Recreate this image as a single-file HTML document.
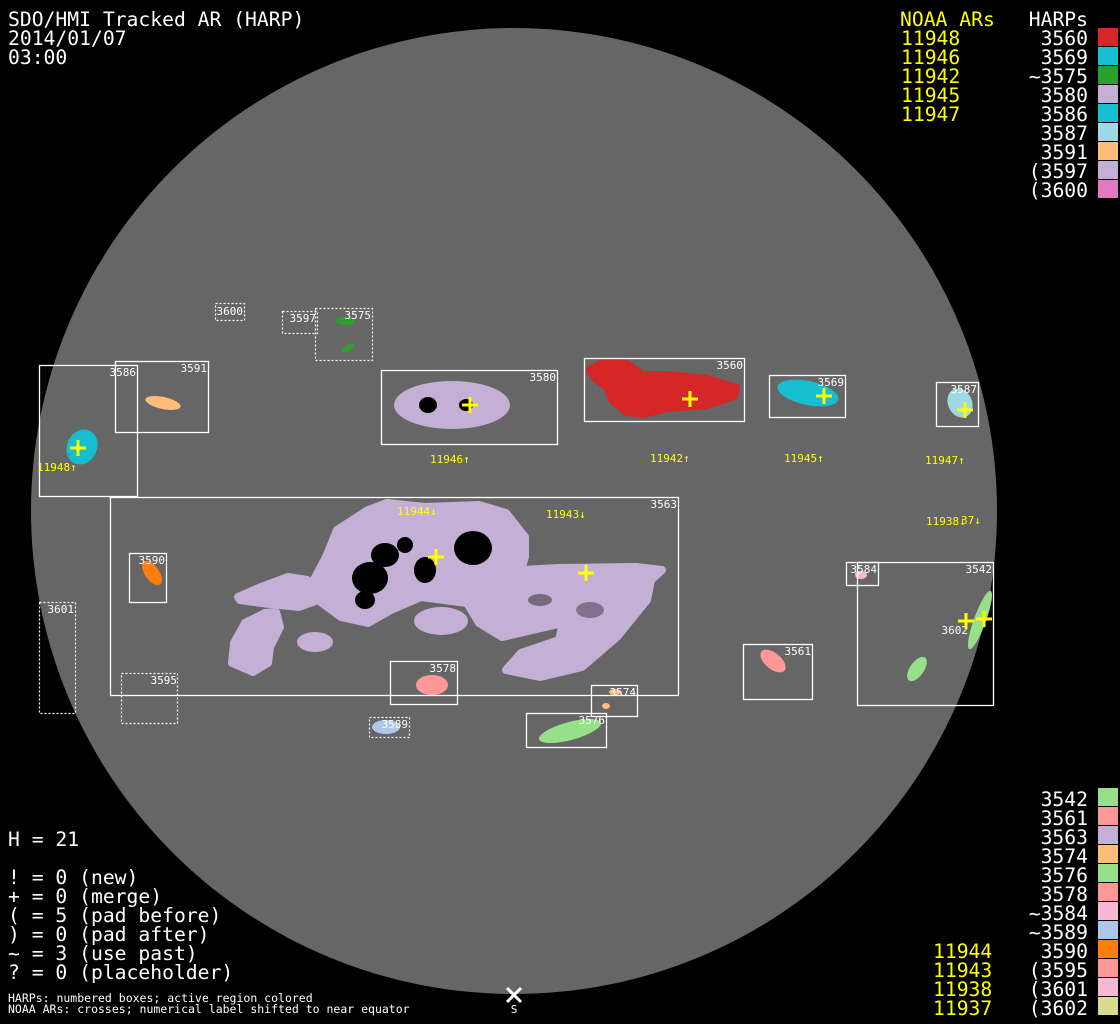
<!DOCTYPE html>
<html><head><meta charset="utf-8"><style>
html,body{margin:0;padding:0;background:#000;}
svg{display:block;}
text{font-family:"DejaVu Sans Mono","Liberation Mono",monospace;}
</style></head><body>
<svg width="1120" height="1024" viewBox="0 0 1120 1024" xmlns="http://www.w3.org/2000/svg">
<rect width="1120" height="1024" fill="#000"/>
<circle cx="514" cy="511" r="483" fill="#666"/>

<!-- lavender big region 3563 -->
<g fill="#c5b0d5" stroke="#c5b0d5" stroke-width="8" stroke-linejoin="round">
<path d="M238,597 L261,587 L288,577 L307,580 L310,587 L326,557 L337,530 L368,510 L387,503 L425,507 L479,505 L506,513 L525,537 L525,557 L521,570 L559,568 L636,567 L662,570 L651,580 L647,600 L617,637 L582,667 L540,677 L506,670 L521,653 L559,640 L563,623 L502,637 L479,623 L467,603 L421,597 L391,610 L368,623 L341,617 L318,600 L299,607 L261,603 L240,600 Z"/>
<path d="M276,612 L280,627 L270,647 L268,663 L253,672 L232,663 L234,643 L245,623 L265,613 Z"/>
</g>
<ellipse cx="315" cy="642" rx="18" ry="10" fill="#c5b0d5"/>
<ellipse cx="441" cy="621" rx="27" ry="14" fill="#c5b0d5"/>
<!-- spots -->
<ellipse cx="473" cy="548" rx="19" ry="17" fill="#000"/>
<ellipse cx="425" cy="570" rx="11" ry="13" fill="#000"/>
<ellipse cx="370" cy="578" rx="18" ry="16" fill="#000"/>
<ellipse cx="385" cy="555" rx="14" ry="12" fill="#000"/>
<ellipse cx="365" cy="600" rx="10" ry="9" fill="#000"/>
<ellipse cx="405" cy="545" rx="8" ry="8" fill="#000"/>
<ellipse cx="540" cy="600" rx="12" ry="6" fill="#000" opacity="0.4"/>
<ellipse cx="590" cy="610" rx="14" ry="8" fill="#000" opacity="0.35"/>

<!-- 3580 -->
<ellipse cx="452" cy="405" rx="58" ry="24" fill="#c5b0d5"/>
<ellipse cx="428" cy="405" rx="9" ry="8" fill="#000"/>
<ellipse cx="466" cy="405" rx="7" ry="6" fill="#000"/>
<!-- 3560 red -->
<path fill="#d62728" stroke="#d62728" stroke-width="8" stroke-linejoin="round" d="M590,370 L602,363 L627,364 L642,375 L667,375 L707,379 L736,388 L734,396 L707,405 L667,408 L643,414 L627,412 L613,401 L607,387 L595,378 Z"/>
<!-- 3569 -->
<ellipse cx="808" cy="393" rx="31" ry="12" transform="rotate(12 808 393)" fill="#17becf"/>
<!-- 3587 -->
<ellipse cx="960" cy="403" rx="12" ry="15" transform="rotate(-25 960 403)" fill="#9edae5"/>
<!-- 3586 -->
<ellipse cx="82" cy="447" rx="15" ry="18" transform="rotate(25 82 447)" fill="#17becf"/>
<!-- 3591 -->
<ellipse cx="163" cy="403" rx="18" ry="6" transform="rotate(12 163 403)" fill="#ffbb78"/>
<!-- 3575 -->
<ellipse cx="345" cy="321" rx="10" ry="4" fill="#2ca02c"/>
<ellipse cx="348" cy="348" rx="7" ry="3" transform="rotate(-30 348 348)" fill="#2ca02c"/>
<!-- 3590 -->
<ellipse cx="152" cy="573" rx="7" ry="14" transform="rotate(-35 152 573)" fill="#ff7f0e"/>
<!-- 3578 -->
<ellipse cx="432" cy="685" rx="16" ry="10" fill="#ff9896"/>
<!-- 3589 -->
<ellipse cx="386" cy="727" rx="14" ry="7" fill="#aec7e8"/>
<!-- 3574 -->
<ellipse cx="615" cy="692" rx="6" ry="3" fill="#ffbb78"/>
<ellipse cx="606" cy="706" rx="4" ry="3" fill="#ffbb78"/>
<!-- 3576 -->
<ellipse cx="570" cy="731" rx="32" ry="9" transform="rotate(-15 570 731)" fill="#98df8a"/>
<!-- 3561 -->
<ellipse cx="773" cy="661" rx="8" ry="15" transform="rotate(-50 773 661)" fill="#ff9896"/>
<!-- 3584 -->
<ellipse cx="861" cy="575" rx="6" ry="4" fill="#f7b6d2"/>
<!-- 3542 -->
<ellipse cx="980" cy="620" rx="6" ry="31" transform="rotate(20 980 620)" fill="#98df8a"/>
<ellipse cx="917" cy="669" rx="7" ry="14" transform="rotate(35 917 669)" fill="#98df8a"/>

<!-- boxes -->
<g fill="none" stroke="#fff" stroke-width="1.3">
<rect x="39.5" y="365.5" width="98" height="131"/>
<rect x="115.5" y="361.5" width="93" height="71"/>
<rect x="381.5" y="370.5" width="176" height="74"/>
<rect x="584.5" y="358.5" width="160" height="63"/>
<rect x="769.5" y="375.5" width="76" height="42"/>
<rect x="936.5" y="382.5" width="42" height="44"/>
<rect x="110.5" y="497.5" width="568" height="198"/>
<rect x="129.5" y="553.5" width="37" height="49"/>
<rect x="390.5" y="661.5" width="67" height="43"/>
<rect x="591.5" y="685.5" width="46" height="31"/>
<rect x="526.5" y="713.5" width="80" height="34"/>
<rect x="743.5" y="644.5" width="69" height="55"/>
<rect x="846.5" y="562.5" width="32" height="23"/>
<rect x="857.5" y="562.5" width="136" height="143"/>
</g>
<g fill="none" stroke="#fff" stroke-width="1.2" stroke-dasharray="2,2">
<rect x="215.5" y="303.5" width="29" height="17"/>
<rect x="282.5" y="311.5" width="35" height="22"/>
<rect x="315.5" y="308.5" width="57" height="52"/>
<rect x="39.5" y="602.5" width="36" height="111"/>
<rect x="121.5" y="673.5" width="56" height="50"/>
<rect x="369.5" y="717.5" width="40" height="20"/>
</g>

<!-- box labels -->
<g fill="#fff" font-size="11" text-anchor="end">
<text x="243" y="315">3600</text>
<text x="316" y="322">3597</text>
<text x="371" y="319">3575</text>
<text x="136" y="376">3586</text>
<text x="207" y="372">3591</text>
<text x="556" y="381">3580</text>
<text x="743" y="369">3560</text>
<text x="844" y="386">3569</text>
<text x="977" y="393">3587</text>
<text x="677" y="508">3563</text>
<text x="165" y="564">3590</text>
<text x="74" y="613">3601</text>
<text x="177" y="684">3595</text>
<text x="456" y="672">3578</text>
<text x="408" y="728">3589</text>
<text x="636" y="696">3574</text>
<text x="605" y="724">3576</text>
<text x="811" y="655">3561</text>
<text x="877" y="573">3584</text>
<text x="992" y="573">3542</text>
<text x="968" y="634">3602</text>
</g>

<!-- crosses -->
<g stroke="#ff0" stroke-width="3">
<path d="M70,448h16M78,440v16"/>
<path d="M462,405h16M470,397v16"/>
<path d="M682,399h16M690,391v16"/>
<path d="M816,396h16M824,388v16"/>
<path d="M957,410h16M965,402v16"/>
<path d="M428,557h16M436,549v16"/>
<path d="M578,573h16M586,565v16"/>
<path d="M958,621h16M966,613v16"/>
<path d="M976,619h16M984,611v16"/>
</g>
<g fill="#ff0" font-size="11">
<text x="37" y="471">11948↑</text>
<text x="430" y="463">11946↑</text>
<text x="650" y="462">11942↑</text>
<text x="784" y="462">11945↑</text>
<text x="925" y="464">11947↑</text>
<text x="397" y="515">11944↓</text>
<text x="546" y="518">11943↓</text>
<text x="926" y="525">11938↓</text>
<text x="961" y="524">37↓</text>
</g>

<!-- S marker -->
<path d="M507,988l14,14M521,988l-14,14" stroke="#fff" stroke-width="3"/>
<text x="514" y="1013" fill="#fff" font-size="11" text-anchor="middle">S</text>

<!-- top-left -->
<g fill="#fff" font-size="19.7">
<text x="8" y="26">SDO/HMI Tracked AR (HARP)</text>
<text x="8" y="45">2014/01/07</text>
<text x="8" y="64">03:00</text>
</g>

<!-- top-right legend -->
<g font-size="19.7">
<text x="900" y="26" fill="#ff0">NOAA ARs</text>
<text x="901" y="45" fill="#ff0">11948</text>
<text x="901" y="64" fill="#ff0">11946</text>
<text x="901" y="83" fill="#ff0">11942</text>
<text x="901" y="102" fill="#ff0">11945</text>
<text x="901" y="121" fill="#ff0">11947</text>
<g fill="#fff" text-anchor="end">
<text x="1088" y="26">HARPs</text>
<text x="1088" y="45">3560</text>
<text x="1088" y="64">3569</text>
<text x="1088" y="83">~3575</text>
<text x="1088" y="102">3580</text>
<text x="1088" y="121">3586</text>
<text x="1088" y="140">3587</text>
<text x="1088" y="159">3591</text>
<text x="1088" y="178">(3597</text>
<text x="1088" y="197">(3600</text>
</g>
</g>
<rect x="1098" y="28" width="20" height="18" fill="#d62728"/>
<rect x="1098" y="47" width="20" height="18" fill="#17becf"/>
<rect x="1098" y="66" width="20" height="18" fill="#2ca02c"/>
<rect x="1098" y="85" width="20" height="18" fill="#c5b0d5"/>
<rect x="1098" y="104" width="20" height="18" fill="#17becf"/>
<rect x="1098" y="123" width="20" height="18" fill="#9edae5"/>
<rect x="1098" y="142" width="20" height="18" fill="#ffbb78"/>
<rect x="1098" y="161" width="20" height="18" fill="#c5b0d5"/>
<rect x="1098" y="180" width="20" height="18" fill="#e377c2"/>

<!-- bottom-right legend -->
<g font-size="19.7">
<g fill="#fff" text-anchor="end">
<text x="1088" y="806">3542</text>
<text x="1088" y="825">3561</text>
<text x="1088" y="844">3563</text>
<text x="1088" y="863">3574</text>
<text x="1088" y="882">3576</text>
<text x="1088" y="901">3578</text>
<text x="1088" y="920">~3584</text>
<text x="1088" y="939">~3589</text>
<text x="1088" y="958">3590</text>
<text x="1088" y="977">(3595</text>
<text x="1088" y="996">(3601</text>
<text x="1088" y="1015">(3602</text>
</g>
<g fill="#ff0">
<text x="933" y="958">11944</text>
<text x="933" y="977">11943</text>
<text x="933" y="996">11938</text>
<text x="933" y="1015">11937</text>
</g>
</g>
<rect x="1098" y="788" width="20" height="18" fill="#98df8a"/>
<rect x="1098" y="807" width="20" height="18" fill="#ff9896"/>
<rect x="1098" y="826" width="20" height="18" fill="#c5b0d5"/>
<rect x="1098" y="845" width="20" height="18" fill="#ffbb78"/>
<rect x="1098" y="864" width="20" height="18" fill="#98df8a"/>
<rect x="1098" y="883" width="20" height="18" fill="#ff9896"/>
<rect x="1098" y="902" width="20" height="18" fill="#f7b6d2"/>
<rect x="1098" y="921" width="20" height="18" fill="#aec7e8"/>
<rect x="1098" y="940" width="20" height="18" fill="#ff7f0e"/>
<rect x="1098" y="959" width="20" height="18" fill="#ff9896"/>
<rect x="1098" y="978" width="20" height="18" fill="#f7b6d2"/>
<rect x="1098" y="997" width="20" height="18" fill="#dbdb8d"/>

<!-- bottom-left -->
<g fill="#fff" font-size="19.7">
<text x="8" y="846">H = 21</text>
<text x="8" y="884">! = 0 (new)</text>
<text x="8" y="903">+ = 0 (merge)</text>
<text x="8" y="922">( = 5 (pad before)</text>
<text x="8" y="941">) = 0 (pad after)</text>
<text x="8" y="960">~ = 3 (use past)</text>
<text x="8" y="979">? = 0 (placeholder)</text>
</g>
<g fill="#fff" font-size="11.5">
<text x="8" y="1002">HARPs: numbered boxes; active region colored</text>
<text x="8" y="1013">NOAA ARs: crosses; numerical label shifted to near equator</text>
</g>
</svg>
</body></html>
